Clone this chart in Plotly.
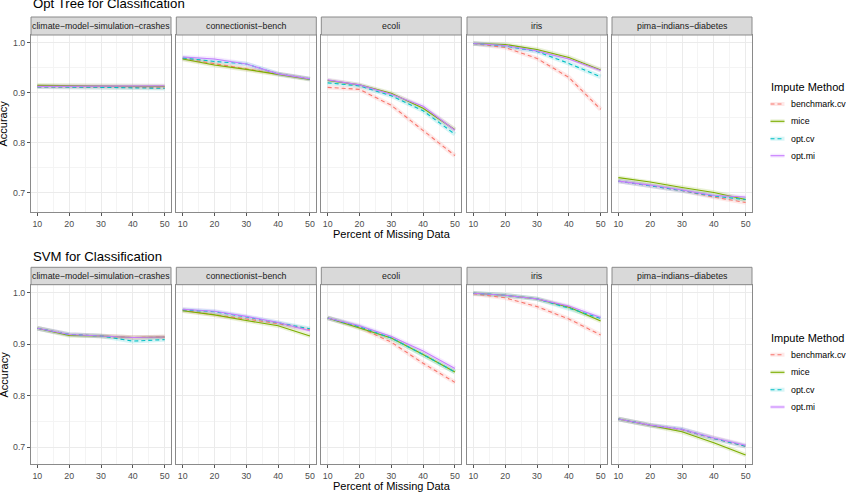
import plotly.graph_objects as go

W, H = 846, 492

# ---------------- data ----------------
pct_missing = [10, 20, 30, 40, 50]
datasets = ["climate\u2212model\u2212simulation\u2212crashes", "connectionist\u2212bench",
            "ecoli", "iris", "pima\u2212indians\u2212diabetes"]
methods = ["benchmark.cv", "mice", "opt.cv", "opt.mi"]
method_colors = ["#F8766D", "#7CAE00", "#00BFC4", "#C77CFF"]
method_dash = ["4px,3px", "solid", "4px,3px", "solid"]
panel_titles = ["Opt Tree for Classification", "SVM for Classification"]
y_ticks = [0.7, 0.8, 0.9, 1.0]
x_ticks = [10, 20, 30, 40, 50]

# Opt Tree: one row per dataset (climate, connectionist, ecoli, iris, pima)
tree_benchmark_cv = [
    [0.912, 0.912, 0.912, 0.911, 0.910],
    [0.969, 0.958, 0.948, 0.938, 0.928],
    [0.911, 0.907, 0.875, 0.824, 0.774],
    [0.999, 0.991, 0.969, 0.931, 0.867],
    [0.723, 0.714, 0.704, 0.691, 0.680],
]
tree_mice = [
    [0.915, 0.914, 0.913, 0.913, 0.913],
    [0.968, 0.956, 0.947, 0.937, 0.927],
    [0.925, 0.916, 0.899, 0.869, 0.826],
    [0.999, 0.997, 0.987, 0.971, 0.946],
    [0.730, 0.721, 0.710, 0.700, 0.686],
]
tree_opt_cv = [
    [0.912, 0.912, 0.911, 0.910, 0.909],
    [0.970, 0.963, 0.958, 0.938, 0.928],
    [0.920, 0.914, 0.894, 0.864, 0.817],
    [0.999, 0.994, 0.983, 0.959, 0.932],
    [0.723, 0.714, 0.704, 0.693, 0.686],
]
tree_opt_mi = [
    [0.913, 0.913, 0.913, 0.913, 0.914],
    [0.972, 0.968, 0.958, 0.938, 0.928],
    [0.926, 0.916, 0.897, 0.873, 0.825],
    [0.999, 0.995, 0.984, 0.968, 0.945],
    [0.723, 0.715, 0.705, 0.694, 0.691],
]

# SVM
svm_benchmark_cv = [
    [0.931, 0.919, 0.916, 0.913, 0.914],
    [0.966, 0.958, 0.949, 0.940, 0.928],
    [0.951, 0.933, 0.904, 0.863, 0.826],
    [0.998, 0.990, 0.973, 0.949, 0.918],
    [0.755, 0.743, 0.734, 0.717, 0.702],
]
svm_mice = [
    [0.931, 0.917, 0.916, 0.913, 0.914],
    [0.965, 0.957, 0.946, 0.936, 0.916],
    [0.951, 0.932, 0.912, 0.880, 0.846],
    [0.999, 0.995, 0.988, 0.972, 0.945],
    [0.755, 0.743, 0.730, 0.709, 0.685],
]
svm_opt_cv = [
    [0.931, 0.919, 0.916, 0.906, 0.909],
    [0.967, 0.963, 0.953, 0.941, 0.930],
    [0.951, 0.934, 0.912, 0.880, 0.846],
    [0.999, 0.995, 0.988, 0.970, 0.950],
    [0.755, 0.743, 0.735, 0.717, 0.702],
]
svm_opt_mi = [
    [0.931, 0.919, 0.916, 0.913, 0.914],
    [0.968, 0.964, 0.954, 0.942, 0.926],
    [0.951, 0.936, 0.915, 0.887, 0.853],
    [0.999, 0.995, 0.988, 0.974, 0.952],
    [0.755, 0.743, 0.735, 0.718, 0.704],
]

panels_data = [
    [tree_benchmark_cv, tree_mice, tree_opt_cv, tree_opt_mi],
    [svm_benchmark_cv, svm_mice, svm_opt_cv, svm_opt_mi],
]

# ---------------- layout geometry (pixels) ----------------
facet_x0 = [31, 176.3, 321.3, 467, 612]
facet_w = 140
panel_plot_top = [35, 284.7]
panel_plot_bot = [212, 464.3]
panel_strip_top = [17, 267.3]
panel_y_range = [[0.661, 1.016], [0.667, 1.0155]]
title_y = [3.5, 256.5]
xtitle_y = [234, 486]
ytitle_y = [123.5, 374.5]
legend_title_y = [87.3, 338.3]
legend_entry_y = [[104, 121.3, 138.7, 155.7], [354.7, 372.3, 389.7, 407]]

def px(x):
    return x / W

def py(y):
    return 1 - y / H

def rgba(hexc, a):
    hexc = hexc.lstrip("#")
    r, g, b = int(hexc[0:2], 16), int(hexc[2:4], 16), int(hexc[4:6], 16)
    return f"rgba({r},{g},{b},{a})"

FONT = "Liberation Sans"
SMALL = 8.8

fig = go.Figure()
layout = dict(
    width=W, height=H, margin=dict(l=0, r=0, t=0, b=0),
    paper_bgcolor="white", plot_bgcolor="white",
    showlegend=False, font=dict(family=FONT),
)
shapes = []
annotations = []

ax = 0
for p in range(2):
    for d in range(5):
        ax += 1
        xa = f"xaxis{ax}" if ax > 1 else "xaxis"
        ya = f"yaxis{ax}" if ax > 1 else "yaxis"
        xref = f"x{ax}" if ax > 1 else "x"
        yref = f"y{ax}" if ax > 1 else "y"
        x0 = facet_x0[d]
        layout[xa] = dict(
            domain=[px(x0), px(x0 + facet_w)], anchor=yref, range=[8, 52],
            tickvals=x_ticks, ticktext=[str(v) for v in x_ticks],
            showgrid=True, gridcolor="#EBEBEB", gridwidth=1,
            minor=dict(dtick=5, tick0=0, showgrid=True, gridcolor="#F4F4F4", gridwidth=0.6),
            zeroline=False, showline=True, mirror=True, linecolor="#8A8A8A", linewidth=1,
            ticks="outside", ticklen=3, tickcolor="#555555", tickwidth=1,
            tickfont=dict(size=SMALL, color="#4D4D4D", family=FONT),
        )
        layout[ya] = dict(
            domain=[py(panel_plot_bot[p]), py(panel_plot_top[p])], anchor=xref,
            range=panel_y_range[p], tickvals=y_ticks,
            ticktext=[f"{v:.1f}" for v in y_ticks],
            showticklabels=(d == 0), ticks="outside" if d == 0 else "",
            ticklen=3, tickcolor="#555555", tickwidth=1,
            showgrid=True, gridcolor="#EBEBEB", gridwidth=1,
            minor=dict(dtick=0.05, tick0=0, showgrid=True, gridcolor="#F4F4F4", gridwidth=0.6),
            zeroline=False, showline=True, mirror=True, linecolor="#8A8A8A", linewidth=1,
            tickfont=dict(size=SMALL, color="#4D4D4D", family=FONT),
        )
        # strip
        shapes.append(dict(type="rect", xref="paper", yref="paper",
                           x0=px(x0), x1=px(x0 + facet_w),
                           y0=py(panel_plot_top[p]), y1=py(panel_strip_top[p]),
                           fillcolor="#D9D9D9", line=dict(color="#8A8A8A", width=1),
                           layer="above"))
        annotations.append(dict(text=datasets[d], xref="paper", yref="paper",
                                x=px(x0 + facet_w / 2),
                                y=py((panel_plot_top[p] + panel_strip_top[p]) / 2),
                                showarrow=False, xanchor="center", yanchor="middle",
                                font=dict(size=SMALL, color="#1A1A1A", family=FONT)))
        # series: faint band underneath, then the line
        for m in range(4):
            vals = panels_data[p][m][d]
            fig.add_trace(go.Scatter(
                x=pct_missing, y=vals, mode="lines", xaxis=xref, yaxis=yref,
                line=dict(color=rgba(method_colors[m], 0.16), width=4.5),
                hoverinfo="skip"))
        for m in range(4):
            vals = panels_data[p][m][d]
            fig.add_trace(go.Scatter(
                x=pct_missing, y=vals, mode="lines", xaxis=xref, yaxis=yref,
                name=methods[m],
                line=dict(color=method_colors[m], width=1.1, dash=method_dash[m])))

    # panel title
    annotations.append(dict(text=panel_titles[p], xref="paper", yref="paper",
                            x=px(30.5), y=py(title_y[p]), xanchor="left", yanchor="middle",
                            showarrow=False, font=dict(size=13.2, color="#000000", family=FONT)))
    # axis titles
    annotations.append(dict(text="Percent of Missing Data", xref="paper", yref="paper",
                            x=px(391.7), y=py(xtitle_y[p]), xanchor="center", yanchor="middle",
                            showarrow=False, font=dict(size=11, color="#000000", family=FONT)))
    annotations.append(dict(text="Accuracy", xref="paper", yref="paper", textangle=-90,
                            x=px(3), y=py(ytitle_y[p]), xanchor="center", yanchor="middle",
                            showarrow=False, font=dict(size=11, color="#000000", family=FONT)))
    # legend
    annotations.append(dict(text="Impute Method", xref="paper", yref="paper",
                            x=px(768.5), y=py(legend_title_y[p]), xanchor="left", yanchor="middle",
                            showarrow=False, font=dict(size=11, color="#000000", family=FONT)))
    for m in range(4):
        ey = legend_entry_y[p][m]
        shapes.append(dict(type="line", xref="paper", yref="paper",
                           x0=px(770.5), x1=px(784.5), y0=py(ey), y1=py(ey),
                           line=dict(color=rgba(method_colors[m], 0.16), width=4)))
        shapes.append(dict(type="line", xref="paper", yref="paper",
                           x0=px(770.5), x1=px(784.5), y0=py(ey), y1=py(ey),
                           line=dict(color=method_colors[m], width=1.1,
                                     dash="4px,3px" if method_dash[m] != "solid" else "solid")))
        annotations.append(dict(text=methods[m], xref="paper", yref="paper",
                                x=px(788.5), y=py(ey), xanchor="left", yanchor="middle",
                                showarrow=False, font=dict(size=SMALL, color="#000000", family=FONT)))

layout["shapes"] = shapes
layout["annotations"] = annotations
fig.update_layout(**layout)
fig.write_html("out.html")
